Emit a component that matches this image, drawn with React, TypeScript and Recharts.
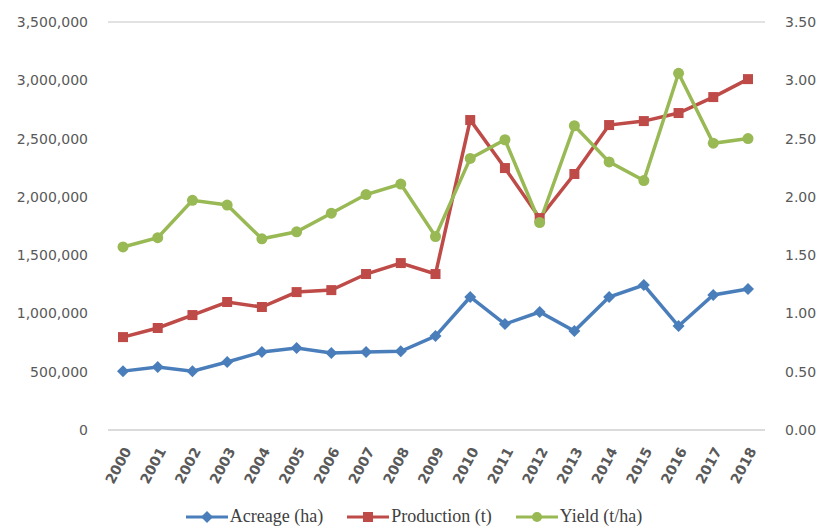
import React from "react";
import { LineChart, Line, XAxis, YAxis, CartesianGrid, Legend } from "recharts";

const years = ["2000", "2001", "2002", "2003", "2004", "2005", "2006", "2007", "2008", "2009", "2010", "2011", "2012", "2013", "2014", "2015", "2016", "2017", "2018"];
const acreage = [505000, 540000, 505000, 583000, 669000, 703000, 660000, 669000, 675000, 806000, 1141000, 909000, 1012000, 849000, 1141000, 1243000, 892000, 1158000, 1209000];
const production = [797000, 875000, 986000, 1098000, 1055000, 1183000, 1200000, 1338000, 1432000, 1338000, 2659000, 2247000, 1818000, 2196000, 2616000, 2650000, 2719000, 2856000, 3010000];
const yieldPerHa = [1.57, 1.65, 1.97, 1.93, 1.64, 1.70, 1.86, 2.02, 2.11, 1.66, 2.33, 2.49, 1.78, 2.61, 2.30, 2.14, 3.06, 2.46, 2.50];
const leftTicks = [0, 500000, 1000000, 1500000, 2000000, 2500000, 3000000, 3500000];
const rightTicks = [0, 0.5, 1, 1.5, 2, 2.5, 3, 3.5];

const data = years.map((y, i) => ({
  year: y,
  acreage: acreage[i],
  production: production[i],
  yield: yieldPerHa[i],
}));

const BLUE = "#4a7ebb";
const RED = "#be4b48";
const GREEN = "#98b954";

const Diamond = (props: any) => {
  const { cx, cy } = props;
  if (cx == null) return null;
  return <path d={`M${cx},${cy - 6} L${cx + 6},${cy} L${cx},${cy + 6} L${cx - 6},${cy} Z`} fill={BLUE} />;
};
const Square = (props: any) => {
  const { cx, cy } = props;
  if (cx == null) return null;
  return <rect x={cx - 5} y={cy - 5} width={10} height={10} fill={RED} />;
};
const Circle = (props: any) => {
  const { cx, cy } = props;
  if (cx == null) return null;
  return <circle cx={cx} cy={cy} r={5.5} fill={GREEN} />;
};

const legendItems = [
  { name: "Acreage (ha)", color: BLUE, shape: "diamond" },
  { name: "Production (t)", color: RED, shape: "square" },
  { name: "Yield (t/ha)", color: GREEN, shape: "circle" },
];

const LegendContent = () => (
  <div style={{ display: "flex", justifyContent: "center", gap: 24, paddingTop: 6, fontFamily: "'Liberation Serif', serif", fontSize: 18, color: "#404040" }}>
    {legendItems.map((it) => (
      <div key={it.name} style={{ display: "flex", alignItems: "center" }}>
        <svg width={42} height={14} style={{ marginRight: 2 }}>
          <line x1={0} y1={7} x2={42} y2={7} stroke={it.color} strokeWidth={3} />
          {it.shape === "diamond" && <path d="M21,1 L27,7 L21,13 L15,7 Z" fill={it.color} />}
          {it.shape === "square" && <rect x={16} y={2} width={10} height={10} fill={it.color} />}
          {it.shape === "circle" && <circle cx={21} cy={7} r={5} fill={it.color} />}
        </svg>
        <span>{it.name}</span>
      </div>
    ))}
  </div>
);

const tickStyle = { fontFamily: "'DejaVu Sans', sans-serif", fontSize: 14, fill: "#595959" };

export default function App() {
  return (
    <div style={{ position: "absolute", left: 0, top: 0, background: "#fff" }}>
      <LineChart width={820} height={529} data={data} margin={{ top: 22, right: 0, left: 8, bottom: 0 }}>
        <CartesianGrid vertical={false} stroke="#d9d9d9" strokeWidth={1.5} />
        <XAxis
          dataKey="year"
          padding={{ left: 15, right: 17 }}
          interval={0}
          angle={-62}
          textAnchor="end"
          height={70}
          tickLine={false}
          axisLine={{ stroke: "#d9d9d9", strokeWidth: 1.5 }}
          tick={{ fontFamily: "'DejaVu Sans', sans-serif", fontSize: 14, fontWeight: "bold", fill: "#595959" }}
          tickMargin={10}
        />
        <YAxis
          yAxisId="left"
          width={100}
          domain={[0, 3500000]}
          ticks={leftTicks}
          tickFormatter={(v: number) => v.toLocaleString("en-US")}
          axisLine={false}
          tickLine={false}
          tick={tickStyle}
          tickMargin={14}
        />
        <YAxis
          yAxisId="right"
          orientation="right"
          width={55}
          domain={[0, 3.5]}
          ticks={rightTicks}
          tickFormatter={(v: number) => v.toFixed(2)}
          axisLine={false}
          tickLine={false}
          tick={tickStyle}
          tickMargin={14}
        />
        <Legend verticalAlign="bottom" height={29} content={<LegendContent />} />
        <Line yAxisId="left" dataKey="acreage" stroke={BLUE} strokeWidth={3.5} dot={<Diamond />} isAnimationActive={false} />
        <Line yAxisId="left" dataKey="production" stroke={RED} strokeWidth={3.5} dot={<Square />} isAnimationActive={false} />
        <Line yAxisId="right" dataKey="yield" stroke={GREEN} strokeWidth={3.5} dot={<Circle />} isAnimationActive={false} />
      </LineChart>
    </div>
  );
}
